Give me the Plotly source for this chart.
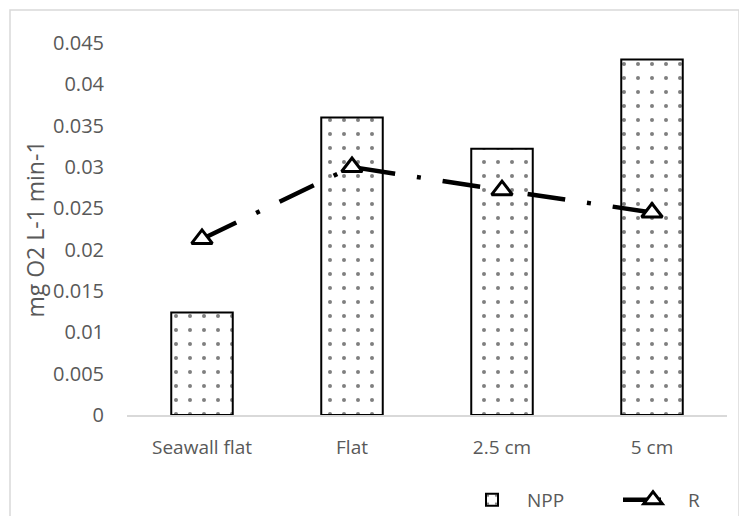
import plotly.graph_objects as go

categories = ["Seawall flat", "Flat", "2.5 cm", "5 cm"]
npp = [0.0124, 0.0360, 0.0322, 0.0430]
r = [0.0213, 0.0300, 0.0272, 0.0245]
y_ticks = [0, 0.005, 0.01, 0.015, 0.02, 0.025, 0.03, 0.035, 0.04, 0.045]
y_tick_labels = ["0", "0.005", "0.01", "0.015", "0.02", "0.025", "0.03", "0.035", "0.04", "0.045"]

FONT = "Open Sans"
GREY = "#595959"

fig = go.Figure()
fig.add_trace(go.Bar(
    x=categories, y=npp, name="NPP",
    marker=dict(color="white", line=dict(color="black", width=2),
                pattern=dict(shape=".", fgcolor="black", bgcolor="white",
                             size=14, solidity=0.065)),
))
fig.add_trace(go.Scatter(
    x=categories, y=r, name="R", mode="lines+markers",
    line=dict(color="black", width=4.5, dash="38px,22px,4px,22px"),
    marker=dict(symbol="triangle-up", size=18, color="white",
                line=dict(color="black", width=3)),
))

# chart-area border
fig.add_shape(type="rect", xref="paper", yref="paper",
              x0=-0.195, x1=1.02, y0=-0.35, y1=1.0887,
              line=dict(color="#d9d9d9", width=1.5), fillcolor="rgba(0,0,0,0)")

fig.update_layout(
    width=739, height=516,
    margin=dict(l=127, r=12, t=43, b=101, autoexpand=False),
    paper_bgcolor="white", plot_bgcolor="white",
    font=dict(family=FONT, size=20, color=GREY),
    bargap=0.59,
    showlegend=True,
    legend=dict(orientation="h", x=0.55, xanchor="left", y=-0.228, yanchor="middle",
                font=dict(size=19, color=GREY), bgcolor="rgba(0,0,0,0)",
                itemwidth=60, entrywidth=86, entrywidthmode="pixels"),
    xaxis=dict(showline=True, linecolor="#d9d9d9", linewidth=1.5,
               showgrid=False, ticks="", ticklabelstandoff=14,
               tickfont=dict(size=19, color=GREY)),
    yaxis=dict(range=[0, 0.045], tickvals=y_ticks, ticktext=y_tick_labels,
               showgrid=False, zeroline=False, showline=False, ticks="",
               ticklabelstandoff=22,
               tickfont=dict(size=20, color=GREY),
               title=dict(text="mg O2 L-1 min-1", font=dict(size=23, color=GREY),
                          standoff=1)),
)

fig.write_html("out.html")
